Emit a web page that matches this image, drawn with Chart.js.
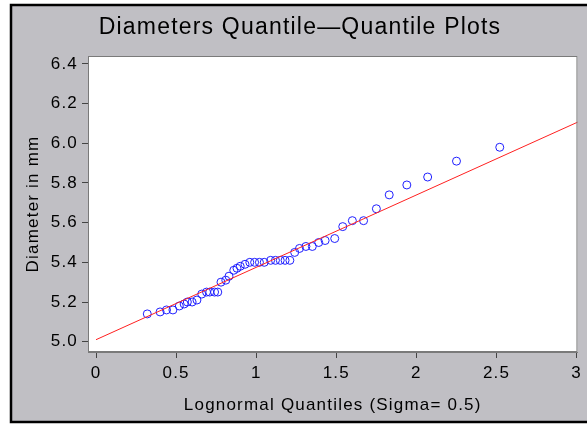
<!DOCTYPE html>
<html><head><meta charset="utf-8">
<script src="https://cdn.jsdelivr.net/npm/chart.js@4"></script>
<style>html,body{margin:0;padding:0;background:#fff}canvas{display:block}</style>
</head><body>
<canvas id="c" width="587" height="426"></canvas>
<script>
const quantiles = [0.32, 0.40, 0.44, 0.48, 0.52, 0.55, 0.57, 0.60, 0.63, 0.66, 0.69, 0.71, 0.74, 0.76, 0.78, 0.81, 0.83, 0.86, 0.88, 0.90, 0.93, 0.96, 0.99, 1.02, 1.05, 1.09, 1.12, 1.15, 1.18, 1.21, 1.24, 1.27, 1.31, 1.35, 1.39, 1.43, 1.49, 1.54, 1.60, 1.67, 1.75, 1.83, 1.94, 2.07, 2.25, 2.52];
const diameters = [5.14, 5.15, 5.16, 5.16, 5.18, 5.19, 5.20, 5.20, 5.21, 5.24, 5.25, 5.25, 5.25, 5.25, 5.30, 5.31, 5.33, 5.36, 5.37, 5.38, 5.39, 5.40, 5.40, 5.40, 5.40, 5.41, 5.41, 5.41, 5.41, 5.41, 5.45, 5.47, 5.48, 5.48, 5.50, 5.51, 5.52, 5.58, 5.61, 5.61, 5.67, 5.74, 5.79, 5.83, 5.91, 5.98];
const refLineX = [0, 3.01];
const refLineY = [5.01, 6.108];
const xTicks = [0, 0.5, 1, 1.5, 2, 2.5, 3];
const yTicks = [5.0, 5.2, 5.4, 5.6, 5.8, 6.0, 6.2, 6.4];
const titleText = 'Diameters Quantile\u2014Quantile Plots';
const xTitle = 'Lognormal Quantiles (Sigma= 0.5)';
const yTitle = 'Diameter in mm';

Chart.defaults.font.family = '"Liberation Sans", Arial, Helvetica, sans-serif';
Chart.defaults.color = '#000';

function setSpacing(chart) {
  if ('letterSpacing' in chart.ctx) chart.ctx.letterSpacing = '1.2px';
}

const framePlugin = {
  id: 'frame',
  beforeLayout(chart) { setSpacing(chart); },
  beforeDraw(chart) {
    setSpacing(chart);
    const ctx = chart.ctx;
    ctx.save();
    ctx.fillStyle = '#ffffff';
    ctx.fillRect(0, 0, chart.width, chart.height);
    ctx.fillStyle = '#c0bfc4';
    ctx.fillRect(11, 5, chart.width, 417);
    ctx.strokeStyle = '#000';
    ctx.lineWidth = 2.5;
    ctx.strokeRect(11, 5, chart.width + 10, 417);
    const a = chart.chartArea;
    ctx.fillStyle = '#ffffff';
    ctx.fillRect(a.left, a.top, a.right - a.left, a.bottom - a.top);
    ctx.restore();
  },
  afterDraw(chart) {
    const ctx = chart.ctx, a = chart.chartArea;
    ctx.save();
    ctx.strokeStyle = '#7a7a7a';
    ctx.lineWidth = 1;
    ctx.strokeRect(a.left + 0.5, a.top + 0.5, a.right - a.left - 1, a.bottom - a.top - 1);
    ctx.restore();
  }
};

new Chart(document.getElementById('c'), {
  type: 'scatter',
  data: {
    datasets: [
      {
        type: 'line',
        data: refLineX.map((x, i) => ({x: x, y: refLineY[i]})),
        borderColor: '#ff2020',
        borderWidth: 1,
        pointRadius: 0,
        showLine: true,
        fill: false
      },
      {
        data: quantiles.map((x, i) => ({x: x, y: diameters[i]})),
        pointStyle: 'circle',
        pointRadius: 4,
        borderColor: '#2020ff',
        backgroundColor: 'rgba(0,0,0,0)',
        borderWidth: 1
      }
    ]
  },
  options: {
    responsive: false,
    animation: false,
    devicePixelRatio: 1,
    layout: {padding: {top: 0, right: 9, bottom: 0, left: 22}},
    plugins: {
      legend: {display: false},
      tooltip: {enabled: false},
      title: {
        display: true,
        text: titleText,
        color: '#000',
        font: {size: 23, weight: 'normal'},
        padding: {top: 14, bottom: 14.4}
      }
    },
    scales: {
      x: {
        type: 'linear',
        min: -0.05,
        max: 3.005,
        afterBuildTicks: s => { s.ticks = xTicks.map(v => ({value: v})); },
        afterFit: s => { s.height = 74; },
        ticks: {color: '#000', font: {size: 17}, padding: 5, maxRotation: 0, autoSkip: false,
          callback: v => String(v)},
        grid: {drawOnChartArea: false, drawTicks: true, tickLength: 6, color: '#444'},
        border: {display: true, color: '#7a7a7a'},
        title: {display: true, text: xTitle, color: '#000', font: {size: 17}, padding: {top: 0, bottom: 10.8}}
      },
      y: {
        type: 'linear',
        min: 4.948,
        max: 6.44,
        afterBuildTicks: s => { s.ticks = yTicks.map(v => ({value: v})); },
        afterFit: s => { s.width = 66; },
        ticks: {color: '#000', font: {size: 17}, padding: 4, autoSkip: false,
          callback: v => Number(v).toFixed(1)},
        grid: {drawOnChartArea: false, drawTicks: true, tickLength: 6, color: '#444'},
        border: {display: true, color: '#7a7a7a'},
        title: {display: true, text: yTitle, color: '#000', font: {size: 17}, padding: {top: 1, bottom: 0}}
      }
    }
  },
  plugins: [framePlugin]
});
</script>
</body></html>
